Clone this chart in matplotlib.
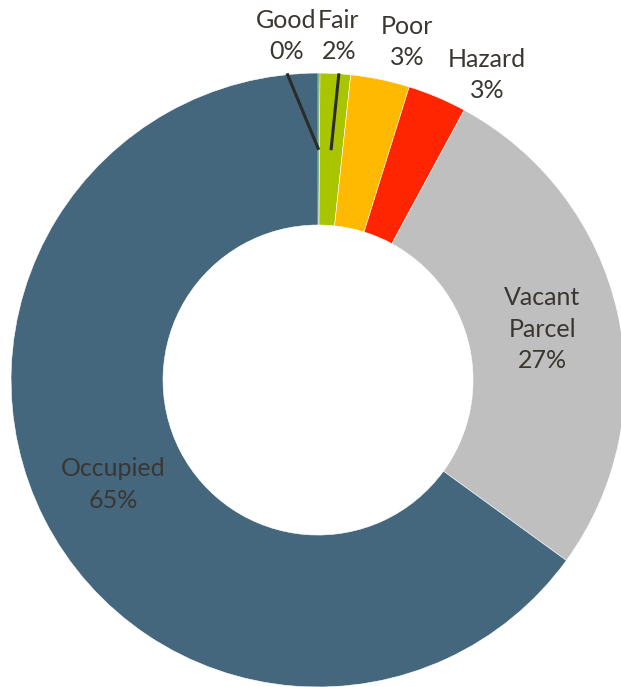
import numpy as np
import matplotlib
matplotlib.use("Agg")
import matplotlib.pyplot as plt

labels = ["Good", "Fair", "Poor", "Hazard", "Vacant\nParcel", "Occupied"]
values = [0.1, 1.6, 3.1, 3.1, 27.1, 65.0]
pct_text = ["0%", "2%", "3%", "3%", "27%", "65%"]
colors = ["#006a1e", "#a8c500", "#ffb900", "#ff2500", "#bfbfbf", "#44677d"]

plt.rcParams['font.family'] = ['Lato', 'DejaVu Sans']
txt_color = "#3a3631"
fs = 18
lsp = 1.45

fig = plt.figure(figsize=(6.21, 6.87), dpi=100)
ax = fig.add_axes([0, 0, 1, 1])

wedges, _ = ax.pie(values, colors=colors, startangle=90, counterclock=False,
                   radius=1.0, wedgeprops=dict(width=0.495, edgecolor="white", linewidth=0.4))

ax.set_xlim(-1.036, 0.987)
ax.set_ylim(-1.0, 1.238)
ax.set_aspect("auto")
ax.axis("off")

# inside labels (big slices) at the ring middle
for i in [4, 5]:
    w = wedges[i]
    ang = np.deg2rad((w.theta1 + w.theta2) / 2)
    x, y = 0.75 * np.cos(ang), 0.75 * np.sin(ang)
    ax.text(x, y, labels[i] + "\n" + pct_text[i], ha="center", va="center",
            fontsize=fs, color=txt_color, linespacing=lsp)

# outside labels for the small slices
out_pos = {0: (-0.104, 1.121), 1: (0.068, 1.121), 2: (0.290, 1.101), 3: (0.550, 0.993)}
for i, (x, y) in out_pos.items():
    ax.text(x, y, labels[i] + "\n" + pct_text[i], ha="center", va="center",
            fontsize=fs, color=txt_color, linespacing=lsp)

# leader lines for Good and Fair
for i in [0, 1]:
    w = wedges[i]
    ang = np.deg2rad((w.theta1 + w.theta2) / 2)
    x0, y0 = out_pos[i]
    ax.plot([x0 + (0.003 if i == 0 else 0), 0.75 * np.cos(ang)],
            [y0 - 0.122, 0.75 * np.sin(ang)], color="#2b2b2b", lw=2.2,
            solid_capstyle="butt")

fig.savefig("out.png", dpi=100)
